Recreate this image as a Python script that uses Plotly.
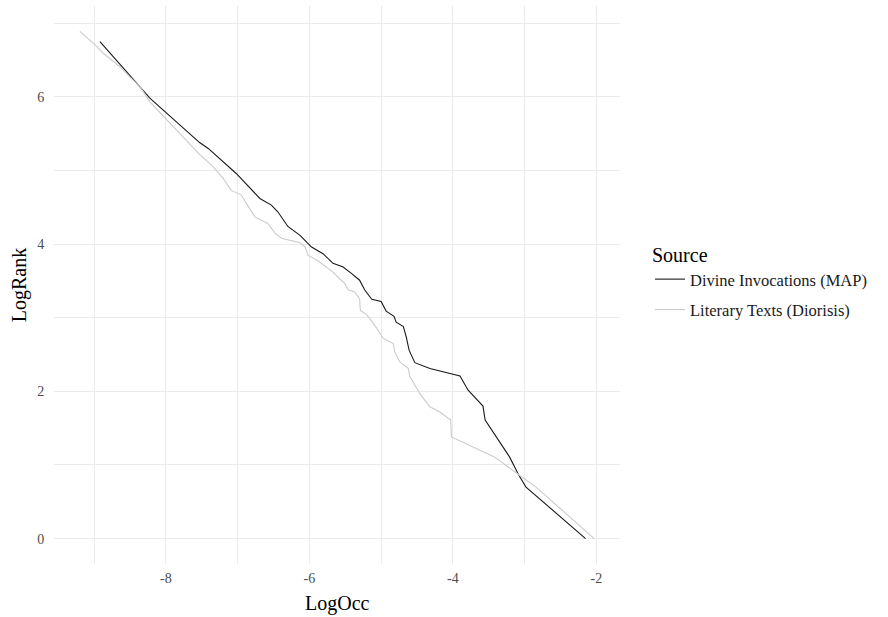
import plotly.graph_objects as go

# Divine Invocations (MAP)
div_x = [-8.92, -8.22, -7.53, -7.41, -7.02, -6.69, -6.53, -6.44, -6.30, -6.13, -5.97, -5.81,
         -5.67, -5.53, -5.41, -5.30, -5.23, -5.13, -5.00, -4.93, -4.82, -4.79, -4.69, -4.65,
         -4.61, -4.53, -4.32, -3.90, -3.79, -3.58, -3.55, -3.21, -3.08, -2.98, -2.15]
div_y = [6.75, 5.98, 5.38, 5.30, 4.96, 4.62, 4.53, 4.44, 4.24, 4.12, 3.96, 3.87,
         3.74, 3.69, 3.60, 3.51, 3.38, 3.25, 3.22, 3.09, 3.02, 2.94, 2.88, 2.74,
         2.56, 2.39, 2.31, 2.21, 2.02, 1.80, 1.61, 1.11, 0.86, 0.70, 0.00]

# Literary Texts (Diorisis)
lit_x = [-9.20, -8.99, -8.87, -8.78, -8.64, -8.50, -8.36, -8.22, -7.99, -7.81, -7.62, -7.53,
         -7.34, -7.20, -7.09, -6.95, -6.85, -6.76, -6.58, -6.48, -6.39, -6.13, -6.06, -6.02,
         -5.86, -5.67, -5.58, -5.51, -5.46, -5.37, -5.30, -5.29, -5.20, -5.09, -4.97, -4.83,
         -4.81, -4.74, -4.62, -4.60, -4.46, -4.32, -4.18, -4.03, -4.02, -3.42, -3.07, -2.84, -2.03]
lit_y = [6.89, 6.71, 6.59, 6.52, 6.41, 6.27, 6.14, 5.93, 5.69, 5.51, 5.30, 5.22,
         5.05, 4.89, 4.73, 4.67, 4.51, 4.37, 4.28, 4.15, 4.08, 4.02, 3.96, 3.85,
         3.76, 3.62, 3.53, 3.47, 3.38, 3.35, 3.26, 3.10, 3.04, 2.90, 2.72, 2.65,
         2.54, 2.40, 2.31, 2.20, 1.97, 1.79, 1.72, 1.61, 1.38, 1.11, 0.86, 0.70, 0.00]

x_ticks = [-8, -6, -4, -2]
x_minor = [-9, -7, -5, -3]
y_ticks = [0, 2, 4, 6]
y_minor = [1, 3, 5, 7]

FONT = "Liberation Serif"

fig = go.Figure()
fig.add_trace(go.Scatter(x=div_x, y=div_y, mode="lines", name="Divine Invocations (MAP)",
                         legendgroup="a", line=dict(color="#1a1a1a", width=1.1)))
fig.add_trace(go.Scatter(x=lit_x, y=lit_y, mode="lines", name="Literary Texts (Diorisis)",
                         legendgroup="b", line=dict(color="#cbcbcb", width=1.1)))

grid = "#ebebeb"
fig.update_layout(
    width=888, height=617,
    margin=dict(l=54, r=268, t=6, b=53),
    paper_bgcolor="white", plot_bgcolor="white",
    font=dict(family=FONT, color="#000000"),
    showlegend=True,
    legend=dict(
        title=dict(text="Source", font=dict(size=20, family=FONT, color="#000")),
        font=dict(size=16.5, family=FONT, color="#1a1a1a"),
        x=1.053, y=0.588, xanchor="left", yanchor="top",
        bgcolor="rgba(0,0,0,0)", tracegroupgap=6, traceorder="grouped",
    ),
    xaxis=dict(
        range=[-9.56, -1.67], tickmode="array", tickvals=x_ticks,
        ticktext=[str(v) for v in x_ticks], automargin=False,
        showgrid=True, gridcolor=grid, gridwidth=1.1, zeroline=False, showline=False,
        ticks="outside", ticklen=1, tickcolor="rgba(0,0,0,0)",
        tickfont=dict(size=14, family=FONT, color="#4d4d4d"),
        minor=dict(tickvals=x_minor, showgrid=True, gridcolor=grid, gridwidth=0.6),
    ),
    yaxis=dict(
        range=[-0.345, 7.235], tickmode="array", tickvals=y_ticks,
        ticktext=[str(v) for v in y_ticks], automargin=False,
        showgrid=True, gridcolor=grid, gridwidth=1.1, zeroline=False, showline=False,
        ticks="outside", ticklen=6, tickcolor="rgba(0,0,0,0)",
        tickfont=dict(size=14, family=FONT, color="#4d4d4d"),
        minor=dict(tickvals=y_minor, showgrid=True, gridcolor=grid, gridwidth=0.6),
    ),
    annotations=[
        dict(text="LogOcc", xref="paper", yref="paper", x=0.5, y=-0.0466,
             xanchor="center", yanchor="top", showarrow=False,
             font=dict(size=20, family=FONT, color="#000")),
        dict(text="LogRank", xref="paper", yref="paper", x=-0.0615, y=0.5,
             xanchor="center", yanchor="middle", textangle=-90, showarrow=False,
             font=dict(size=20, family=FONT, color="#000")),
    ],
)

fig.write_html("out.html", config={"displayModeBar": False},
               post_script="document.body.style.margin='0';")
